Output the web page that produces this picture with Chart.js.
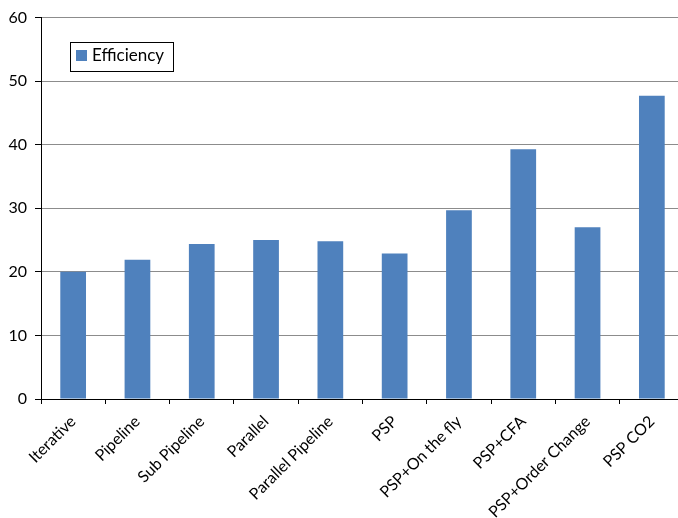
<!DOCTYPE html>
<html>
<head>
<meta charset="utf-8">
<script src="https://cdn.jsdelivr.net/npm/chart.js@4"></script>
<style>
    html, body { margin: 0; padding: 0; overflow: hidden; background: #fff; }
    canvas { display: block; }
</style>
</head>
<body>
<canvas id="grafico" width="684" height="518"></canvas>
<script>
const categorias = [
    "Iterative", "Pipeline", "Sub Pipeline", "Parallel", "Parallel Pipeline",
    "PSP", "PSP+On the fly", "PSP+CFA", "PSP+Order Change", "PSP CO2"
];
const eficiencia = [20.0, 21.9, 24.4, 25.0, 24.8, 22.9, 29.7, 39.3, 27.0, 47.7];
const ticksY = [0, 10, 20, 30, 40, 50, 60];

const fuente = "Lato, 'Liberation Sans', sans-serif";

// leyenda dibujada dentro del area del grafico, como en el original
const leyendaInterna = {
    id: "leyendaInterna",
    afterDraw(chart) {
        const ctx = chart.ctx;
        const ds = chart.data.datasets[0];
        ctx.save();
        ctx.fillStyle = "#fff";
        ctx.fillRect(70, 42, 103, 29);
        ctx.strokeStyle = "#000";
        ctx.lineWidth = 1;
        ctx.strokeRect(70.5, 42.5, 103, 29);
        ctx.fillStyle = ds.backgroundColor;
        ctx.fillRect(76, 50, 11, 11);
        ctx.fillStyle = "#000";
        ctx.font = "17px " + fuente;
        ctx.textBaseline = "middle";
        ctx.fillText(ds.label, 92, 56);
        ctx.restore();
    },
};

const ctx = document.querySelector("#grafico").getContext("2d");
new Chart(ctx, {
    type: "bar",
    data: {
        labels: categorias,
        datasets: [
            {
                label: "Efficiency",
                data: eficiencia,
                backgroundColor: "#4F81BD",
                borderWidth: 0,
                categoryPercentage: 1,
                barPercentage: 0.4,
            },
        ],
    },
    options: {
        responsive: false,
        animation: false,
        layout: { padding: { top: 17, right: 0, left: 0, bottom: 0 } },
        plugins: {
            legend: { display: false },
            tooltip: { enabled: false },
        },
        scales: {
            x: {
                afterFit: (scale) => { scale.height = 119; },
                grid: {
                    drawOnChartArea: false,
                    drawTicks: true,
                    tickLength: 5,
                    tickColor: "#000",
                },
                border: { color: "#000", width: 1 },
                ticks: {
                    color: "#000",
                    font: { family: fuente, size: 16 },
                    maxRotation: 45,
                    minRotation: 45,
                    padding: 8,
                    autoSkip: false,
                },
            },
            y: {
                min: 0,
                max: 60,
                afterFit: (scale) => { scale.width = 41; },
                afterBuildTicks: (scale) => {
                    scale.ticks = ticksY.map((v) => ({ value: v }));
                },
                grid: {
                    color: "#8c8c8c",
                    tickColor: "#000",
                    tickLength: 6,
                    lineWidth: 1,
                },
                border: { color: "#000", width: 1 },
                ticks: {
                    color: "#000",
                    font: { family: fuente, size: 16 },
                    padding: 8,
                },
            },
        },
    },
    plugins: [leyendaInterna],
});
</script>
</body>
</html>
